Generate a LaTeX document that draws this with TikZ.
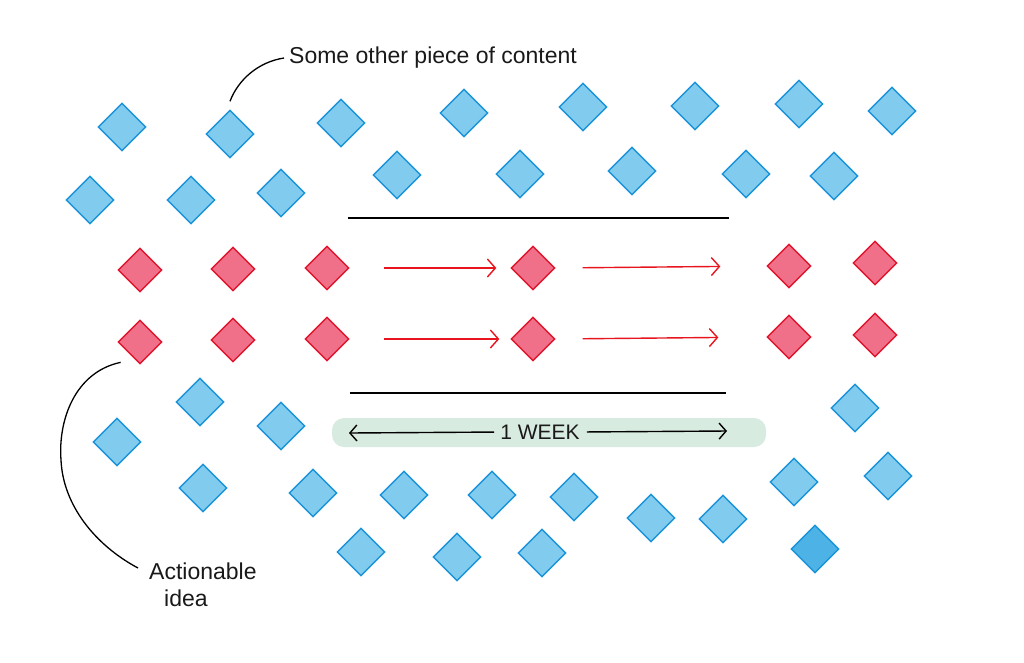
\documentclass[tikz,border=0pt]{standalone}
\usepackage{fontspec}
\setmainfont{Liberation Sans}
\usetikzlibrary{shapes.geometric,arrows.meta,positioning}
\definecolor{contentfill}{HTML}{80CBEE}
\definecolor{contentdark}{HTML}{4DB3E6}
\definecolor{contentline}{HTML}{1B93D8}
\definecolor{ideafill}{HTML}{EF7088}
\definecolor{idealine}{HTML}{E0162E}
\definecolor{arrowred}{HTML}{E8141E}
\definecolor{wash}{HTML}{D8EBE0}
\tikzset{
  content/.style={diamond,draw=contentline,fill=contentfill,line width=1.4pt,
    minimum width=48pt,minimum height=48pt,inner sep=0pt},
  idea/.style={diamond,draw=idealine,fill=ideafill,line width=1.4pt,
    minimum width=44pt,minimum height=44pt,inner sep=0pt},
  note/.style={font=\fontsize{23}{27}\selectfont,inner sep=0pt,text=black!90}
}
\begin{document}
\begin{tikzpicture}[x=1pt,y=-1pt]
                \useasboundingbox (0,0) rectangle (1024,662);
                % other content, above
                \foreach \x/\y [count=\i] in {122/127,230/134,341/123,464/113,583/107,695/106,799/104,892/111}
                  \node[content] (top\i) at (\x,\y) {};
                \foreach \x/\y [count=\i] in {90/200,191/200,281/193,397/175,520/174,632/171,746/174,834/176}
                  \node[content] (mid\i) at (\x,\y) {};
                % other content, below
                \foreach \x/\y [count=\i] in {117/442,200/402,281/426,855/408,203/488,313/493,404/495,492/495,574/497,651/518,723/519,794/482,888/476,361/552,457/557,542/553}
                  \node[content] (low\i) at (\x,\y) {};
                \node[content,fill=contentdark] (low17) at (815,549) {};
                % actionable ideas
                \foreach \x/\ya/\yb [count=\i] in {140/270/342,233/269/340,327/268/339,533/268/339,789/266/337,875/263/335} {
                  \node[idea] (up\i) at (\x,\ya) {};
                  \node[idea] (lo\i) at (\x,\yb) {};
                }
                \draw[line width=1.8pt] (348,218) -- (729,218);
                \draw[line width=1.8pt] (350,393) -- (726,393);
                \begin{scope}[arrowred,line width=1.4pt,-{Straight Barb[length=8pt,width=18pt]}]
                  \draw[shorten <=34pt,shorten >=14pt] (up3.east) -- (up4.west);
                  \draw[shorten <=27pt,shorten >=46pt] (up4.east) -- (up5.west);
                  \draw[shorten <=34pt,shorten >=11pt] (lo3.east) -- (lo4.west);
                  \draw[shorten <=27pt,shorten >=48pt] (lo4.east) -- (lo5.west);
                \end{scope}
                % one week
                \fill[wash,rounded corners=12pt] (332,418) rectangle (766,447);
                \node[note,font=\fontsize{21}{25}\selectfont] (week) at (540,432) {1 WEEK};
                \coordinate (week-l) at (349,433);
                \coordinate (week-r) at (727,431);
                \draw[line width=1.4pt,-{Straight Barb[length=7pt,width=16pt]},shorten <=6pt] (week.west) -- (week-l);
                \draw[line width=1.4pt,-{Straight Barb[length=7pt,width=16pt]},shorten <=7pt] (week.east) -- (week-r);
                % labels
                \node[note,anchor=west] (other) at (289,58) {Some other piece of content};
                \coordinate (other-a) at ([yshift=8pt]top2.north);
                \draw[line width=1.3pt] (other-a) .. controls (238,80) and (258,62) .. ([xshift=-5pt]other.west);
                \node[note,align=left,anchor=north west] (action) at (149,563) {Actionable\\\hspace*{15pt}idea};
                \coordinate (action-a) at ([shift={(-8pt,-9pt)}]lo1.south west);
                \coordinate (action-b) at ([shift={(-11pt,-5pt)}]action.north west);
                \draw[line width=1.3pt] (action-a) .. controls (75,372) and (58,420) .. (61,460)
                  .. controls (63,505) and (95,545) .. (action-b);
            \end{tikzpicture}
\end{document}
